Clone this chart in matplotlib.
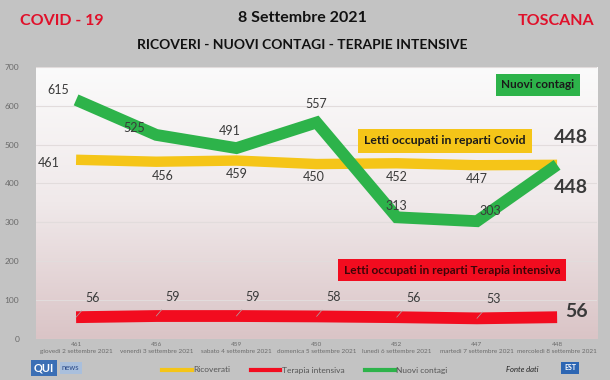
import numpy as np
import matplotlib
matplotlib.use("Agg")
import matplotlib.pyplot as plt
from matplotlib.lines import Line2D
from matplotlib.colors import LinearSegmentedColormap

plt.rcParams['font.family'] = ['Lato', 'DejaVu Sans']

days = ["giovedì 2 settembre 2021", "venerdì 3 settembre 2021", "sabato 4 settembre 2021",
        "domenica 5 settembre 2021", "lunedì 6 settembre 2021", "martedì 7 settembre 2021",
        "mercoledì 8 settembre 2021"]
ricoverati = [461, 456, 459, 450, 452, 447, 448]
terapia = [56, 59, 59, 58, 56, 53, 56]
contagi = [615, 525, 491, 557, 313, 303, 448]

C_Y = "#f5c518"
C_R = "#f20c1f"
C_G = "#2db34a"
TXT = "#3a3a3a"

fig = plt.figure(figsize=(6.1, 3.8), dpi=100)
fig.patch.set_facecolor("#c3c3c3")
ax = fig.add_axes([0.059, 0.108, 0.92, 0.716])
ax.set_xlim(-0.5, 6.5)
ax.set_ylim(0, 700)

# gradient background
grad = np.linspace(0, 1, 256).reshape(-1, 1)
cmap = LinearSegmentedColormap.from_list("bg", ["#dac4c6", "#f0e9ea", "#fbfbfb"])
ax.imshow(grad, extent=[0, 1, 0, 1], transform=ax.transAxes, cmap=cmap,
          aspect="auto", origin="lower", zorder=0)

for s in ax.spines.values():
    s.set_visible(False)
ax.set_yticks(range(0, 701, 100))
ax.yaxis.grid(True, color="#e2dcdc", linewidth=0.8, zorder=1)
ax.tick_params(axis="y", length=0, labelsize=6, labelcolor="#6a6a6a", pad=12)
ax.set_xticks(range(7))
ax.set_xticklabels([f"{v}\n{d}" for v, d in zip(ricoverati, days)], fontsize=4.6,
                   color="#6a6a6a", linespacing=1.6)
ax.tick_params(axis="x", length=0, pad=2)

x = np.arange(7)
ax.plot(x, ricoverati, color=C_Y, lw=7.5, solid_capstyle="butt", solid_joinstyle="miter", zorder=3)
ax.plot(x, contagi, color=C_G, lw=8.5, solid_capstyle="butt", solid_joinstyle="miter", zorder=4)
ax.plot(x, terapia, color=C_R, lw=8.5, solid_capstyle="butt", solid_joinstyle="miter", zorder=3)

# labels
g_off = [(-13, 7), (-16, 5), (-5, 12), (0, 13), (0, 8), (10, 7)]
for i in range(6):
    ax.annotate(str(contagi[i]), (x[i], contagi[i]), xytext=g_off[i], textcoords="offset points",
                ha="center", va="center", fontsize=9, color=TXT, zorder=6)
y_off = [(-20, -2), (5, -10), (0, -10), (-2, -9), (0, -10), (0, -10)]
for i in range(6):
    ax.annotate(str(ricoverati[i]), (x[i], ricoverati[i]), xytext=y_off[i], textcoords="offset points",
                ha="center", va="center", fontsize=9, color=TXT, zorder=6)
for i in range(6):
    ax.annotate(str(terapia[i]), (x[i], terapia[i]), xytext=(12, 14), textcoords="offset points",
                ha="center", va="center", fontsize=9, color=TXT, zorder=6,
                arrowprops=dict(arrowstyle="-", color="#aaaaaa", lw=0.5, shrinkA=4, shrinkB=0))
ax.annotate(str(ricoverati[6]), (x[6], ricoverati[6]), xytext=(10, 20), textcoords="offset points",
            ha="center", va="center", fontsize=14, fontweight="bold", color=TXT, zorder=6)
ax.annotate(str(contagi[6]), (x[6], contagi[6]), xytext=(10, -16), textcoords="offset points",
            ha="center", va="center", fontsize=14, fontweight="bold", color=TXT, zorder=6)
ax.annotate(str(terapia[6]), (x[6], terapia[6]), xytext=(14, 4), textcoords="offset points",
            ha="center", va="center", fontsize=14, fontweight="bold", color=TXT, zorder=6)

# callout boxes
fig.text(538/610, 1 - 85/380, "Nuovi contagi", ha="center", va="center", fontsize=8.5,
         fontweight="bold", color="#1a1a1a",
         bbox=dict(boxstyle="square,pad=0.5", fc=C_G, ec="none"))
fig.text(445/610, 1 - 141/380, "Letti occupati in reparti Covid", ha="center", va="center",
         fontsize=8.8, fontweight="bold", color="#1a1a1a",
         bbox=dict(boxstyle="square,pad=0.5", fc=C_Y, ec="none"))
fig.text(452/610, 1 - 270/380, "Letti occupati in reparti Terapia intensiva", ha="center",
         va="center", fontsize=8.6, fontweight="bold", color="#3d0508",
         bbox=dict(boxstyle="square,pad=0.5", fc=C_R, ec="none"))

# titles
fig.text(62/610, 1 - 21/380, "COVID - 19", ha="center", va="center", fontsize=11.5,
         fontweight="bold", color="#e0102a")
fig.text(556/610, 1 - 21/380, "TOSCANA", ha="center", va="center", fontsize=11.5,
         fontweight="bold", color="#e0102a")
fig.text(302/610, 1 - 18/380, "8 Settembre 2021", ha="center", va="center", fontsize=11.5,
         fontweight="bold", color="#111111")
fig.text(302/610, 1 - 45/380, "RICOVERI - NUOVI CONTAGI - TERAPIE INTENSIVE", ha="center",
         va="center", fontsize=10, fontweight="bold", color="#111111")

# bottom legend
handles = [Line2D([], [], color=C_Y, lw=3), Line2D([], [], color=C_R, lw=3),
           Line2D([], [], color=C_G, lw=3)]
fig.legend(handles, ["Ricoverati", "Terapia intensiva", "Nuovi contagi"], loc="center",
           bbox_to_anchor=(305/610, 1 - 370/380), ncol=3, frameon=False, fontsize=6,
           labelcolor="#555555", handlelength=3.5, handletextpad=0.2, columnspacing=2.5)

# logos as text
fig.text(44/610, 1 - 368/380, "QUI", ha="center", va="center", fontsize=8, fontweight="bold",
         color="white", bbox=dict(boxstyle="square,pad=0.25", fc="#3b6fb5", ec="none"))
fig.text(62/610, 1 - 368/380, "news", ha="left", va="center", fontsize=5.5, color="#2a4a8a",
         bbox=dict(boxstyle="square,pad=0.3", fc="#a9bfdc", ec="none"))
fig.text(522/610, 1 - 370/380, "Fonte dati", ha="center", va="center", fontsize=5.5,
         fontstyle="italic", color="#222222")
fig.text(570/610, 1 - 368/380, "EST", ha="center", va="center", fontsize=5, fontweight="bold",
         color="white", bbox=dict(boxstyle="square,pad=0.4", fc="#2d66b3", ec="none"))

fig.savefig("out.png", dpi=100, facecolor=fig.get_facecolor())
